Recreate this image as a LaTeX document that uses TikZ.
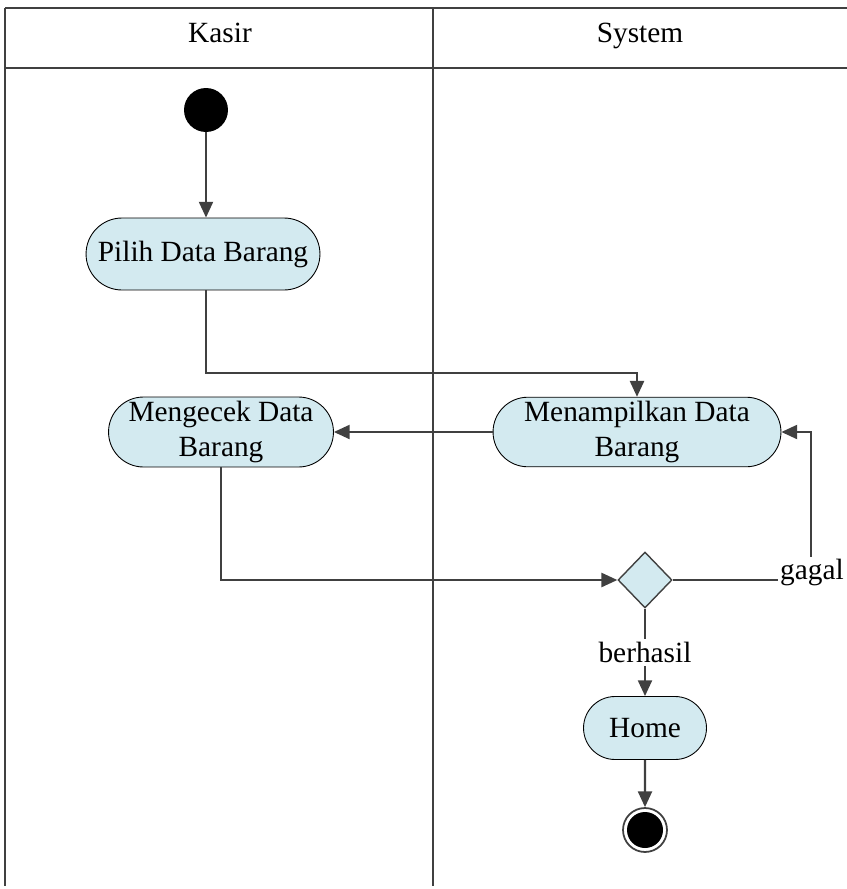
\documentclass[tikz,border=0pt]{standalone}
\usepackage{fontspec}
\setmainfont{Liberation Serif}
\usepackage{xcolor}
\usetikzlibrary{arrows.meta, positioning, shapes.misc, shapes.geometric}
\definecolor{actfill}{HTML}{D3EAF0}
\definecolor{linegray}{HTML}{404040}

\begin{document}
\begin{tikzpicture}[x=0.02cm, y=-0.02cm, >={Triangle[length=9pt, width=8pt]},
  font=\fontsize{16.7}{20.4}\selectfont,
  lanehead/.style={text height=1.6ex, text depth=0.4ex},
  activity/.style={draw=black, fill=actfill, rounded rectangle, align=center, inner sep=2pt, line width=0.5pt},
  decision/.style={draw=linegray, fill=actfill, diamond, minimum width=1.08cm, minimum height=1.12cm, inner sep=0pt, line width=0.8pt},
  startnode/.style={circle, fill=black, minimum size=0.88cm, inner sep=0pt},
  endnode/.style={circle, draw=linegray, line width=1pt, minimum size=0.88cm, inner sep=0pt,
    path picture={\fill[black] (path picture bounding box.center) circle (0.36cm);}},
  flow/.style={draw=linegray, line width=1.2pt}]
  \useasboundingbox (0,0) rectangle (847,889);

  % swimlanes
  \draw[linegray, line width=1.2pt] (5,8) -- (847,8);
  \draw[linegray, line width=1.2pt] (5,68) -- (847,68);
  \draw[linegray, line width=1.2pt] (5,8) -- (5,886);
  \draw[linegray, line width=1.2pt] (433,8) -- (433,886);
  \node[lanehead] (kasir) at (220,38) {Kasir};
  \node[lanehead] (system) at (640,38) {System};

  % activities
  \node[startnode] (start) at (206,110) {};
  \node[activity, minimum width=4.82cm, minimum height=1.44cm] (pilih) at (203,254) {Pilih Data Barang};
  \node[activity, minimum width=4.64cm, minimum height=1.4cm] (cek) at (221,432) {Mengecek Data\\Barang};
  \node[activity, minimum width=5.9cm, minimum height=1.32cm] (tampil) at (637,432) {Menampilkan Data\\Barang};
  \node[decision] (cond) at (645,580) {};
  \node[activity, minimum width=2.6cm, minimum height=1.26cm] (home) at (645,728) {Home};
  \node[endnode] (end) at (645,830) {};
  \coordinate (turn) at (811,580);

  \draw[flow,->] (start.south) -- (start.south |- pilih.north);
  \draw[flow,->] (start.south |- pilih.south) -- ++(0,83) -| (tampil.north);
  \draw[flow,->] (tampil.west) -- (cek.east);
  \draw[flow,->] (cek.south) |- (cond.west);
  \draw[flow,->] (cond.east) -- (turn) |- (tampil.east);
  \node[fill=white, inner sep=1pt] (gagal) at (812,572) {gagal};
  \draw[flow,->] (cond.south) -- node[fill=white, inner sep=2pt]{berhasil} (home.north);
  \draw[flow,->] (home) -- (end);
\end{tikzpicture}
\end{document}
